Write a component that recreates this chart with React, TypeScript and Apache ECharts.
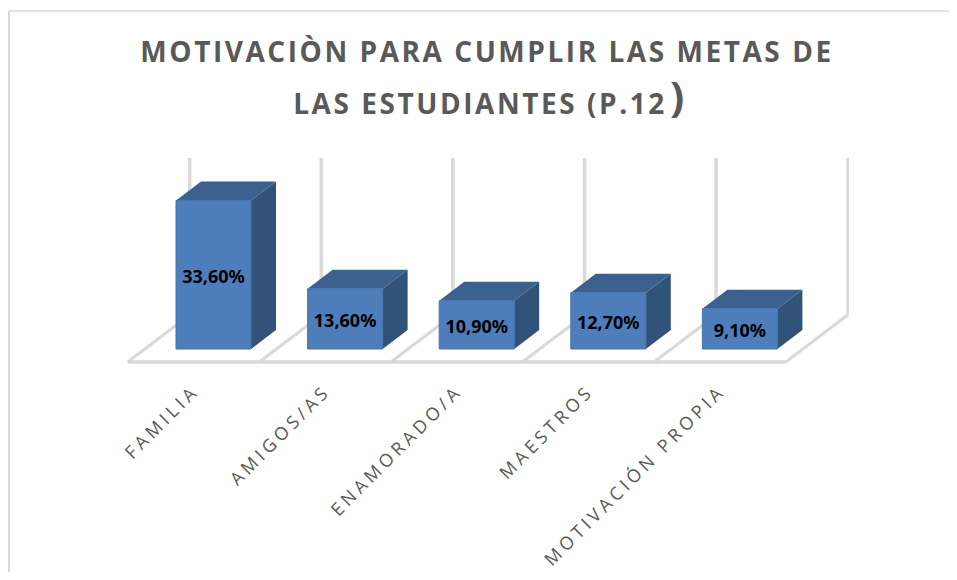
import React, { useEffect, useRef } from "react";
import * as echarts from "echarts";

const categories = ["FAMILIA", "AMIGOS/AS", "ENAMORADO/A", "MAESTROS", "MOTIVACIÓN PROPIA"];
const values = [33.6, 13.6, 10.9, 12.7, 9.1];
const titleLine1 = "MOTIVACIÒN PARA CUMPLIR LAS METAS DE";
const titleLine2 = "LAS ESTUDIANTES (P.12";
const titleParen = ")";
const wallIndices = [0, 1, 2, 3, 4, 5];

const AXIS_MAX = 35.5;
const DEPTH_DX = 25;
const DEPTH_DY = -19;
const BACK = { dx: 42, dy: -34 };
const FRONT = { dx: -20, dy: 13 };
const WALL = "#d9d9d9";

const css = `
#root svg text[style*="Open Sans"] { letter-spacing: 4px; }
#root svg text[style*="bold"][style*="Open Sans"] { letter-spacing: 2.55px; }
`;

export default function App() {
  const ref = useRef<HTMLDivElement>(null);
  useEffect(() => {
    const chart = echarts.init(ref.current!, undefined, { renderer: "svg" });
    const titleStyle = { fontFamily: "Open Sans", fontWeight: "bold", fontSize: 28, color: "#595959" };
    chart.setOption({
      animation: false,
      backgroundColor: "#ffffff",
      title: [
        { text: titleLine1, left: 487, top: 37, textAlign: "center", textStyle: titleStyle, padding: 0 },
        { text: titleLine2, left: 480, top: 89, textAlign: "center", textStyle: titleStyle, padding: 0 },
        { text: titleParen, left: 670, top: 74, textStyle: { fontWeight: "bold", fontFamily: "Noto Sans", fontSize: 42, color: "#595959" }, padding: 0 },
      ],
      grid: { left: 147.7, width: 658, top: 192, height: 157 },
      xAxis: {
        type: "category",
        data: categories,
        axisLine: { show: false },
        axisTick: { show: false },
        axisLabel: {
          rotate: 45,
          interval: 0,
          margin: 20,
          fontFamily: "Open Sans",
          fontSize: 18,
          color: "#595959",
          padding: [0, 26, 0, 0],
        },
      },
      yAxis: { type: "value", min: 0, max: AXIS_MAX, show: false, splitLine: { show: false } },
      graphic: [
        { type: "line", shape: { x1: 9, y1: 11, x2: 957, y2: 11 }, style: { stroke: WALL, lineWidth: 1.5 } },
        { type: "line", shape: { x1: 9, y1: 11, x2: 9, y2: 580 }, style: { stroke: WALL, lineWidth: 2 } },
      ],
      series: [
        {
          type: "custom",
          z: 1,
          clip: false,
          data: wallIndices,
          renderItem: (params: any, api: any) => {
            const i = api.value(0);
            const base = api.coord([0, 0]);
            const band = api.size([1, 0])[0];
            const top = api.coord([0, AXIS_MAX]);
            const x = base[0] - band / 2 + i * band;
            const line = (x1: number, y1: number, x2: number, y2: number, w = 3) => ({
              type: "line",
              shape: { x1, y1, x2, y2 },
              style: { stroke: WALL, lineWidth: w },
            });
            const last = i === wallIndices.length - 1;
            const children: any[] = [
              line(x + BACK.dx, base[1] + BACK.dy, x + BACK.dx, top[1] + BACK.dy, last ? 2.5 : 3.5),
              line(x + FRONT.dx, base[1] + FRONT.dy, x + BACK.dx, base[1] + BACK.dy, 3),
            ];
            if (last) {
              children.push(line(base[0] - band / 2 + FRONT.dx, base[1] + FRONT.dy, x + FRONT.dx, base[1] + FRONT.dy, 3.5));
            }
            return { type: "group", children };
          },
          encode: { x: 0 },
          silent: true,
        },
        {
          type: "custom",
          z: 2,
          clip: false,
          data: values,
          renderItem: (params: any, api: any) => {
            const idx = params.dataIndex;
            const v = api.value(1);
            const p0 = api.coord([idx, 0]);
            const p1 = api.coord([idx, v]);
            const w = api.size([1, 0])[0] * 0.57;
            const l = p0[0] - w / 2;
            const r = p0[0] + w / 2;
            const label = v.toFixed(2).replace(".", ",") + "%";
            return {
              type: "group",
              children: [
                {
                  type: "polygon",
                  shape: { points: [[l, p1[1]], [r, p1[1]], [r + DEPTH_DX, p1[1] + DEPTH_DY], [l + DEPTH_DX, p1[1] + DEPTH_DY]] },
                  style: { fill: "#3c618f" },
                },
                {
                  type: "polygon",
                  shape: { points: [[r, p1[1]], [r + DEPTH_DX, p1[1] + DEPTH_DY], [r + DEPTH_DX, p0[1] + DEPTH_DY], [r, p0[1]]] },
                  style: { fill: "#325379" },
                },
                {
                  type: "rect",
                  shape: { x: l, y: p1[1], width: w, height: p0[1] - p1[1] },
                  style: { fill: "#4d7ebb", stroke: "#4675ad", lineWidth: 1 },
                },
                {
                  type: "text",
                  style: {
                    x: p0[0],
                    y: (p0[1] + p1[1]) / 2 + 1,
                    text: label,
                    align: "center",
                    verticalAlign: "middle",
                    fontFamily: "Noto Sans",
                    fontWeight: "bold",
                    fontSize: 18,
                    fill: "#000000",
                  },
                },
              ],
            };
          },
          encode: { x: 0, y: 1 },
        },
      ],
    });
    return () => chart.dispose();
  }, []);
  return (
    <div style={{ margin: -8 }}>
      <style>{css}</style>
      <div ref={ref} style={{ width: 957, height: 580 }} />
    </div>
  );
}
